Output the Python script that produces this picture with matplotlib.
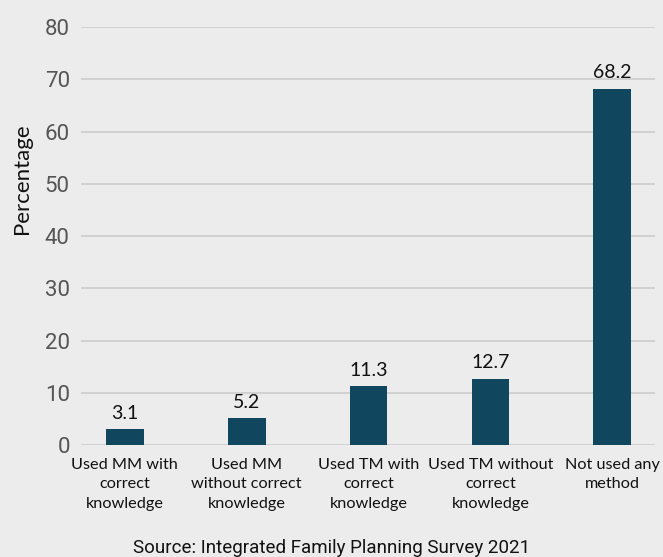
import matplotlib.pyplot as plt

categories = ['Used MM with\ncorrect\nknowledge',
              'Used MM\nwithout correct\nknowledge',
              'Used TM with\ncorrect\nknowledge',
              'Used TM without\ncorrect\nknowledge',
              'Not used any\nmethod']
values = [3.1, 5.2, 11.3, 12.7, 68.2]
yticks = [0, 10, 20, 30, 40, 50, 60, 70, 80]

bg = '#ececec'
bar_color = '#11465f'

fig = plt.figure(figsize=(6.63, 5.57), dpi=100, facecolor=bg)
ax = fig.add_axes([0.122, 0.201, 0.866, 0.7505], facecolor=bg)

x = range(len(values))
bars = ax.bar(x, values, width=0.31, color=bar_color, zorder=3)

for xi, v in zip(x, values):
    ax.text(xi, v + 1.4, f'{v}', ha='center', va='bottom',
            fontsize=14, family='Lato', color='#111111')

ax.set_ylim(0, 80)
ax.set_xlim(-0.36, 4.35)
ax.set_yticks(yticks)
ax.set_yticklabels([str(t) for t in yticks], family='Roboto',
                   fontsize=16, color='#555555')
ax.yaxis.grid(True, color='#cccccc', linewidth=1.2, zorder=0)
ax.tick_params(axis='y', length=0, pad=8)
ax.tick_params(axis='x', length=0, pad=9)
ax.set_xticks(list(x))
ax.set_xticklabels(categories, family='Lato', fontsize=11.7,
                   color='#111111', linespacing=1.5)
for s in ax.spines.values():
    s.set_visible(False)

# y label sits above the axis centre in the original
fig.text(0.033, 0.68, 'Percentage', rotation=90, ha='center', va='center',
         family='Lato', fontsize=16, color='#111111')

fig.text(0.5, 0.016, 'Source: Integrated Family Planning Survey 2021',
         ha='center', va='center', family='Roboto', fontsize=13.5,
         color='#111111')

fig.savefig('out.png', dpi=100, facecolor=bg)
